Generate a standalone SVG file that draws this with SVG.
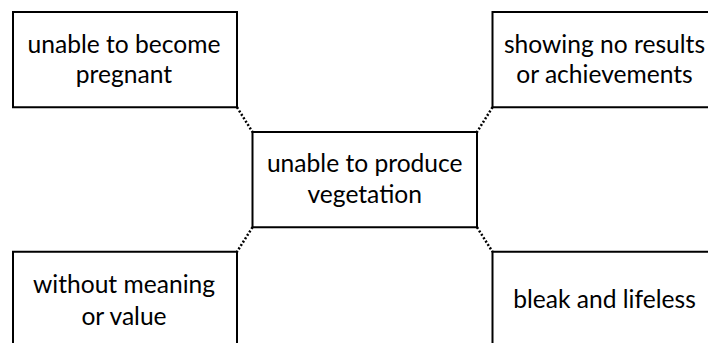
<svg xmlns="http://www.w3.org/2000/svg" width="708" height="343" viewBox="0 0 708 343">
<style>
.box{fill:#fff;stroke:#000;stroke-width:2}
.lbl{font-family:Lato,"Open Sans",sans-serif;font-size:24.6px;fill:#000;text-anchor:middle}
.con{stroke:#000;stroke-width:2.5;stroke-dasharray:2 2;fill:none}
</style>
<rect width="708" height="343" fill="#fff"/>
<g id="connectors">
<line class="con" x1="237" y1="107.25" x2="252.5" y2="132"/>
<line class="con" x1="492.5" y1="107.25" x2="477" y2="132"/>
<line class="con" x1="252.5" y1="227.25" x2="237" y2="251.75"/>
<line class="con" x1="477" y1="227.25" x2="492.5" y2="251.75"/>
</g>
<g id="node-top-left">
<rect class="box" x="13" y="12" width="224" height="95.25"/>
<text class="lbl" x="124" y="52.5">unable to become</text>
<text class="lbl" x="124" y="83">pregnant</text>
</g>
<g id="node-top-right">
<rect class="box" x="492.5" y="12" width="224.5" height="95.25"/>
<text class="lbl" x="604.5" y="52.5">showing no results</text>
<text class="lbl" x="604.5" y="82.5">or achievements</text>
</g>
<g id="node-center">
<rect class="box" x="252.5" y="132" width="224.5" height="95.25"/>
<text class="lbl" x="364.75" y="172">unable to produce</text>
<text class="lbl" x="364.75" y="203">vegetation</text>
</g>
<g id="node-bottom-left">
<rect class="box" x="13" y="251.75" width="224" height="100"/>
<text class="lbl" x="124" y="293">without meaning</text>
<text class="lbl" x="124" y="324.5">or value</text>
</g>
<g id="node-bottom-right">
<rect class="box" x="492.5" y="251.75" width="224.5" height="100"/>
<text class="lbl" x="604.5" y="307.5">bleak and lifeless</text>
</g>
</svg>
